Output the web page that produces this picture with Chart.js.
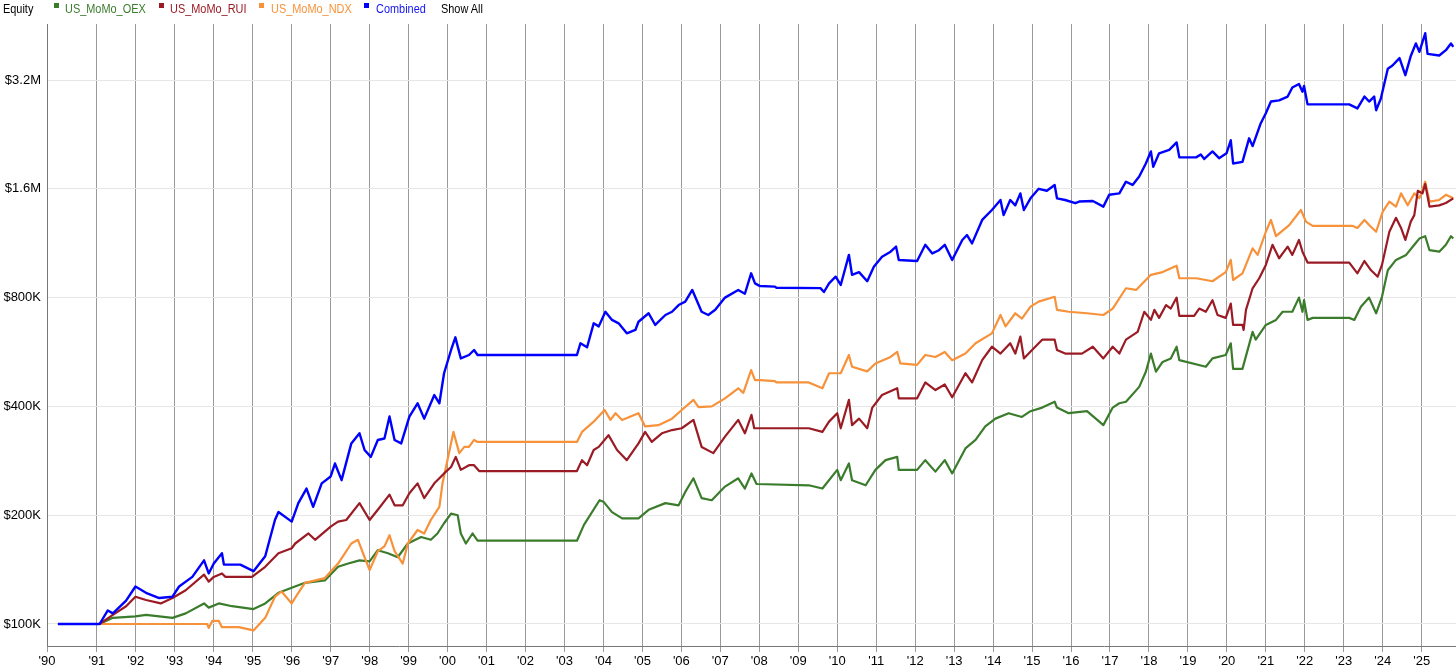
<!DOCTYPE html>
<html>
<head>
<meta charset="utf-8">
<title>Equity</title>
<script src="https://cdn.jsdelivr.net/npm/chart.js@4.4.1/dist/chart.umd.min.js"></script>
<style>
  body { margin: 0; background: #fff; font-family: "Liberation Sans", Arial, sans-serif; }
  #wrap { position: relative; width: 1456px; height: 672px; }
  #equityChart { position: absolute; left: 0; top: 0; }
  #legend { position: absolute; left: 0; top: 0; height: 20px; width: 600px; font-size: 12px; line-height: 14px; z-index: 2; }
  #legend span { position: absolute; top: 2px; white-space: nowrap; transform: scaleX(0.91); transform-origin: 0 0; }
  #legend i { position: absolute; top: 3px; width: 5px; height: 5px; }
</style>
</head>
<body>
<div id="wrap">
  <canvas id="equityChart" width="1456" height="672"></canvas>
  <div id="legend">
    <span style="left:3px;color:#000">Equity</span>
    <i style="left:54px;background:#3b7c2c"></i><span style="left:65px;color:#3b7c2c">US_MoMo_OEX</span>
    <i style="left:159px;background:#9b1b25"></i><span style="left:170px;color:#9b1b25">US_MoMo_RUI</span>
    <i style="left:259px;background:#f7923a"></i><span style="left:271px;color:#f7923a">US_MoMo_NDX</span>
    <i style="left:364px;background:#0000ff"></i><span style="left:376px;color:#1414f0">Combined</span>
    <span style="left:441px;color:#000">Show All</span>
  </div>
</div>
<script>
// equity curves, [year, value in $K]
const oexSeries = [
  [1990.0,100],[1991.07,100],[1991.41,104],[1991.99,105],[1992.26,106],[1992.94,104],[1993.28,107],[1993.75,114],[1993.87,111],[1994.13,114],
  [1994.47,112],[1995.02,110],[1995.32,114],[1995.66,122],[1996.0,126],[1996.17,128],[1996.34,130],[1996.85,132],[1997.19,144],[1997.45,147],
  [1997.74,150],[1998.0,149],[1998.21,160],[1998.47,157],[1998.72,153],[1998.98,167],[1999.32,174],[1999.57,171],[1999.74,178],[1999.91,190],
  [2000.09,202],[2000.26,200],[2000.34,178],[2000.47,167],[2000.64,178],[2000.77,170],[2003.32,170],[2003.5,188],[2003.9,220],[2004.0,218],
  [2004.22,204],[2004.48,196],[2004.9,196],[2005.16,207],[2005.59,216],[2005.93,213],[2006.1,232],[2006.31,253],[2006.52,223],[2006.78,220],
  [2007.12,240],[2007.46,253],[2007.63,237],[2007.8,261],[2007.93,244],[2009.27,242],[2009.62,237],[2010.0,267],[2010.09,250],[2010.3,278],
  [2010.38,250],[2010.73,242],[2010.98,267],[2011.24,284],[2011.54,290],[2011.58,267],[2012.05,267],[2012.26,284],[2012.52,264],[2012.76,284],
  [2012.95,261],[2013.29,306],[2013.55,323],[2013.8,352],[2014.06,370],[2014.4,383],[2014.74,374],[2014.96,388],[2015.26,397],[2015.58,412],
  [2015.64,397],[2015.94,383],[2016.41,388],[2016.83,355],[2017.07,397],[2017.24,408],[2017.41,412],[2017.75,453],[2017.92,499],[2018.05,560],
  [2018.18,499],[2018.35,531],[2018.56,543],[2018.71,585],[2018.78,537],[2019.46,515],[2019.63,543],[2019.97,555],[2020.1,598],[2020.16,508],
  [2020.4,508],[2020.66,643],[2020.74,612],[2021.0,672],[2021.26,694],[2021.43,731],[2021.68,731],[2021.85,800],[2021.94,731],[2021.98,787],
  [2022.07,694],[2022.2,703],[2023.14,703],[2023.27,694],[2023.44,755],[2023.65,800],[2023.83,724],[2023.98,804],[2024.13,952],[2024.34,1017],
  [2024.6,1050],[2024.81,1120],[2024.94,1165],[2025.09,1183],[2025.2,1082],[2025.45,1072],[2025.62,1120],[2025.75,1183],[2025.81,1165]
];

const ruiSeries = [
  [1990.0,100],[1991.07,100],[1991.41,106],[1991.75,112],[1991.99,119],[1992.26,116.5],[1992.64,114],[1992.94,118],[1993.28,124],[1993.75,137],
  [1993.87,131],[1994.0,135],[1994.21,138],[1994.3,135],[1994.98,135],[1995.32,144],[1995.66,157],[1996.0,162],[1996.09,167],[1996.43,178],
  [1996.6,171],[1997.0,186],[1997.19,192],[1997.4,194],[1997.74,216],[1998.0,194],[1998.21,207],[1998.51,228],[1998.64,213],[1998.85,213],
  [1999.02,230],[1999.23,245],[1999.4,223],[1999.66,245],[1999.91,261],[2000.09,272],[2000.21,290],[2000.34,267],[2000.55,275],[2000.68,275],
  [2000.81,265],[2003.32,265],[2003.45,284],[2003.58,275],[2003.75,303],[2003.88,309],[2004.13,333],[2004.35,303],[2004.6,284],[2004.9,316],
  [2005.07,340],[2005.24,319],[2005.5,337],[2005.76,344],[2006.01,348],[2006.31,367],[2006.52,309],[2006.82,297],[2007.12,330],[2007.46,367],
  [2007.63,337],[2007.8,379],[2007.87,348],[2009.27,348],[2009.62,340],[2009.79,363],[2010.0,383],[2010.09,348],[2010.3,417],[2010.38,355],
  [2010.56,370],[2010.77,348],[2010.9,397],[2011.15,430],[2011.54,449],[2011.58,421],[2012.05,421],[2012.26,466],[2012.52,444],[2012.76,460],
  [2012.95,424],[2013.29,494],[2013.46,466],[2013.72,537],[2013.97,585],[2014.19,560],[2014.44,598],[2014.57,560],[2014.7,624],[2014.79,543],
  [2015.0,573],[2015.26,612],[2015.58,612],[2015.64,573],[2015.85,560],[2016.28,560],[2016.56,585],[2016.83,543],[2017.07,585],[2017.24,560],
  [2017.41,612],[2017.71,643],[2017.88,731],[2018.05,694],[2018.14,740],[2018.26,703],[2018.44,763],[2018.56,746],[2018.71,800],[2018.78,712],
  [2019.16,712],[2019.29,746],[2019.46,731],[2019.63,787],[2019.76,716],[2019.97,703],[2020.1,770],[2020.16,672],[2020.4,672],[2020.43,651],
  [2020.49,740],[2020.66,849],[2020.83,905],[2021.0,985],[2021.17,1120],[2021.34,1028],[2021.56,1107],[2021.68,1050],[2021.85,1155],[2021.94,1072],
  [2022.07,1000],[2023.14,1000],[2023.35,934],[2023.53,1010],[2023.7,952],[2023.87,914],[2023.98,985],[2024.17,1217],[2024.34,1330],[2024.47,1247],
  [2024.58,1155],[2024.72,1298],[2024.81,1353],[2024.9,1580],[2025.02,1554],[2025.09,1650],[2025.2,1428],[2025.45,1440],[2025.62,1462],[2025.81,1506]
];

const ndxSeries = [
  [1990.0,100],[1993.83,100],[1993.87,97.5],[1993.96,102],[1994.13,102],[1994.21,98],[1994.64,98],[1995.02,96],[1995.32,104],[1995.57,119],
  [1995.74,123],[1996.0,114],[1996.17,122],[1996.34,130],[1996.85,134],[1997.19,147],[1997.53,167],[1997.7,171],[1997.87,153],[1998.0,141],
  [1998.21,159],[1998.38,164],[1998.51,176],[1998.64,159],[1998.85,147],[1998.98,167],[1999.23,182],[1999.4,178],[1999.57,194],[1999.79,211],
  [1999.87,245],[1999.96,272],[2000.15,340],[2000.3,297],[2000.43,309],[2000.55,309],[2000.68,323],[2000.77,319],[2003.32,319],[2003.45,340],
  [2003.75,363],[2004.03,391],[2004.18,367],[2004.31,383],[2004.48,367],[2004.9,383],[2005.07,352],[2005.41,355],[2005.76,370],[2006.01,391],
  [2006.31,417],[2006.44,398],[2006.78,400],[2007.12,421],[2007.46,449],[2007.59,436],[2007.79,504],[2007.89,473],[2008.02,473],[2008.4,470],
  [2008.44,466],[2009.27,466],[2009.62,449],[2009.79,494],[2010.09,494],[2010.3,555],[2010.38,515],[2010.77,500],[2010.98,526],[2011.37,548],
  [2011.54,566],[2011.62,526],[2012.05,521],[2012.26,555],[2012.52,548],[2012.76,566],[2012.95,537],[2013.29,560],[2013.55,598],[2013.97,637],
  [2014.19,716],[2014.32,666],[2014.57,724],[2014.74,700],[2014.96,755],[2015.17,780],[2015.58,804],[2015.64,740],[2015.94,731],[2016.41,724],
  [2016.83,716],[2017.07,746],[2017.41,849],[2017.67,840],[2018.05,925],[2018.35,941],[2018.71,980],[2018.78,905],[2019.21,905],[2019.46,895],
  [2019.63,888],[2019.97,941],[2020.1,1017],[2020.16,895],[2020.4,934],[2020.66,1095],[2020.79,1050],[2021.0,1217],[2021.13,1312],[2021.26,1183],
  [2021.6,1270],[2021.9,1398],[2022.03,1298],[2022.2,1263],[2023.23,1263],[2023.35,1247],[2023.53,1312],[2023.65,1270],[2023.83,1217],[2024.0,1383],
  [2024.17,1475],[2024.34,1428],[2024.47,1554],[2024.64,1440],[2024.81,1554],[2024.94,1506],[2025.09,1674],[2025.2,1475],[2025.45,1490],[2025.62,1540],
  [2025.81,1506]
];

const combinedSeries = [
  [1990.0,100],[1991.07,100],[1991.28,109],[1991.41,107],[1991.75,116],[1991.99,127],[1992.26,122],[1992.6,118],[1992.94,119],[1993.11,127],
  [1993.45,135],[1993.75,150],[1993.87,138],[1994.0,147],[1994.21,157],[1994.26,146],[1994.68,146],[1995.02,140],[1995.32,154],[1995.57,194],
  [1995.66,204],[1996.0,192],[1996.17,216],[1996.38,237],[1996.55,211],[1996.77,245],[1997.0,256],[1997.11,278],[1997.28,250],[1997.53,316],
  [1997.74,337],[1997.87,303],[1998.03,290],[1998.21,323],[1998.38,326],[1998.51,375],[1998.64,323],[1998.81,316],[1999.02,375],[1999.23,408],
  [1999.4,370],[1999.66,430],[1999.79,408],[1999.91,494],[2000.09,573],[2000.2,621],[2000.34,543],[2000.55,555],[2000.68,573],[2000.77,555],
  [2003.32,555],[2003.41,598],[2003.58,583],[2003.75,679],[2003.88,666],[2004.05,731],[2004.22,694],[2004.39,679],[2004.6,637],[2004.82,651],
  [2004.9,686],[2005.16,724],[2005.33,672],[2005.59,716],[2005.76,731],[2005.93,763],[2006.1,780],[2006.28,840],[2006.52,731],[2006.69,716],
  [2006.87,740],[2007.12,800],[2007.46,840],[2007.63,820],[2007.79,934],[2007.89,876],[2008.02,861],[2008.4,858],[2008.44,852],[2009.57,850],
  [2009.66,829],[2009.79,876],[2009.96,914],[2010.09,867],[2010.3,1050],[2010.38,925],[2010.56,941],[2010.77,888],[2010.94,974],[2011.15,1038],
  [2011.37,1072],[2011.51,1107],[2011.58,1017],[2012.05,1010],[2012.26,1120],[2012.44,1060],[2012.61,1082],[2012.76,1120],[2012.95,1017],[2013.21,1155],
  [2013.33,1192],[2013.46,1130],[2013.72,1312],[2013.97,1398],[2014.19,1490],[2014.27,1353],[2014.44,1490],[2014.57,1440],[2014.7,1554],[2014.79,1398],
  [2014.96,1506],[2015.17,1600],[2015.38,1580],[2015.58,1640],[2015.64,1506],[2015.85,1490],[2016.11,1460],[2016.21,1475],[2016.56,1480],[2016.83,1428],
  [2016.98,1540],[2017.24,1554],[2017.41,1674],[2017.58,1640],[2017.75,1730],[2017.92,1880],[2018.05,2030],[2018.11,1840],[2018.26,2006],[2018.52,2050],
  [2018.71,2150],[2018.78,1955],[2019.21,1955],[2019.33,1990],[2019.42,1935],[2019.63,2030],[2019.8,1945],[2019.99,2006],[2020.1,2180],[2020.16,1880],
  [2020.4,1900],[2020.57,2207],[2020.66,2100],[2020.87,2430],[2021.0,2590],[2021.13,2790],[2021.34,2810],[2021.56,2880],[2021.68,3050],[2021.85,3120],
  [2021.94,2970],[2021.98,3080],[2022.07,2740],[2023.14,2740],[2023.35,2670],[2023.53,2880],[2023.65,2790],[2023.78,2880],[2023.83,2640],[2023.95,2840],
  [2024.13,3440],[2024.25,3510],[2024.43,3680],[2024.58,3300],[2024.72,3730],[2024.85,4040],[2024.94,3830],[2025.09,4310],[2025.15,3780],[2025.45,3740],
  [2025.62,3870],[2025.75,4040],[2025.81,3950]
];

// axis ticks
const xTickYears = [1990,1991,1992,1993,1994,1995,1996,1997,1998,1999,2000,2001,2002,2003,2004,2005,2006,2007,
  2008,2009,2010,2011,2012,2013,2014,2015,2016,2017,2018,2019,2020,2021,2022,2023,2024,2025];
const xTickLabels = ["'90","'91","'92","'93","'94","'95","'96","'97","'98","'99","'00","'01","'02","'03","'04","'05","'06","'07",
  "'08","'09","'10","'11","'12","'13","'14","'15","'16","'17","'18","'19","'20","'21","'22","'23","'24","'25"];
const yTickValues = [100000, 200000, 400000, 800000, 1600000, 3200000];
const yTickLabels = ['$100K', '$200K', '$400K', '$800K', '$1.6M', '$3.2M'];

const xMin = 1989.72;
const xMax = 2025.88;

function toPoints(series) {
  return series.map(p => ({ x: p[0], y: p[1] * 1000 }));
}

Chart.defaults.font.family = '"Liberation Sans", Arial, sans-serif';
Chart.defaults.font.size = 13;
Chart.defaults.color = '#000';

const ctx = document.getElementById('equityChart').getContext('2d');
const equityChart = new Chart(ctx, {
  type: 'line',
  data: {
    datasets: [{
      label: 'Combined',
      data: toPoints(combinedSeries),
      borderColor: '#0000ff',
      borderWidth: 2.4,
      order: 0
    }, {
      label: 'US_MoMo_RUI',
      data: toPoints(ruiSeries),
      borderColor: '#9b1b25',
      borderWidth: 2.2,
      order: 1
    }, {
      label: 'US_MoMo_NDX',
      data: toPoints(ndxSeries),
      borderColor: '#f7923a',
      borderWidth: 2.2,
      order: 2
    }, {
      label: 'US_MoMo_OEX',
      data: toPoints(oexSeries),
      borderColor: '#3b7c2c',
      borderWidth: 2.2,
      order: 3
    }]
  },
  options: {
    responsive: false,
    animation: false,
    devicePixelRatio: 1,
    elements: {
      point: { radius: 0, hoverRadius: 0 },
      line: { tension: 0, fill: false, borderJoinStyle: 'round' }
    },
    layout: { padding: { top: 24, left: 0, right: 0, bottom: 0 } },
    plugins: {
      legend: { display: false },
      tooltip: { enabled: false }
    },
    scales: {
      x: {
        type: 'linear',
        min: xMin,
        max: xMax,
        // the '90 tick sits on the left edge of the axis, as in the original
        afterBuildTicks: (scale) => {
          scale.ticks = xTickYears.map(y => ({ value: y === 1990 ? xMin : y }));
        },
        afterFit: (scale) => { scale.height = 26; },
        ticks: {
          autoSkip: false,
          maxRotation: 0,
          padding: 2,
          color: '#000',
          callback: (value, index) => xTickLabels[index]
        },
        grid: {
          color: '#9a9a9a',
          lineWidth: 1,
          tickLength: 6,
          drawTicks: true
        },
        border: { color: '#777', width: 1 }
      },
      y: {
        type: 'logarithmic',
        min: 86920,
        max: 4572000,
        afterBuildTicks: (scale) => {
          scale.ticks = yTickValues.map(v => ({ value: v }));
        },
        afterFit: (scale) => { scale.width = 47; },
        ticks: {
          padding: 6,
          color: '#000',
          callback: (value, index) => yTickLabels[index]
        },
        grid: {
          color: '#e6e6e6',
          lineWidth: 1,
          drawTicks: false
        },
        border: { color: '#777', width: 1 }
      }
    }
  }
});
</script>
</body>
</html>
